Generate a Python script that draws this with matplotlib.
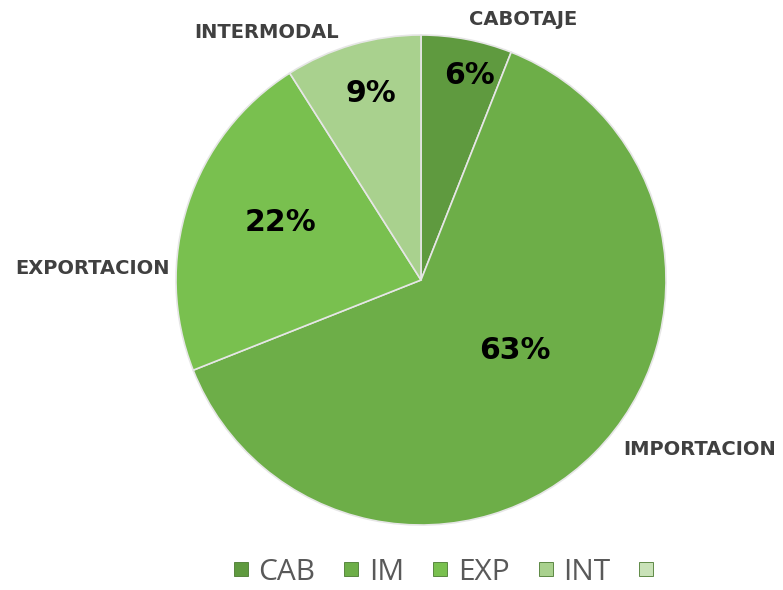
import numpy as np
import matplotlib
matplotlib.use("Agg")
import matplotlib.pyplot as plt
from matplotlib.lines import Line2D

# data
names = ['CABOTAJE', 'IMPORTACION', 'EXPORTACION', 'INTERMODAL']
short = ['CAB', 'IM', 'EXP', 'INT', '']
shares = [6, 63, 22, 9]
colors = ['#5f9a3f', '#6dae48', '#79c04f', '#a9d18e', '#c9e2b8']

fig = plt.figure(figsize=(7.83, 5.90), dpi=100)
ax = fig.add_axes([176 / 783, 65 / 590, 490 / 783, 490 / 590])

wedges, texts, autotexts = ax.pie(
    shares, colors=colors[:4], startangle=90, counterclock=False,
    labels=names, autopct='%1.0f%%', radius=1.0,
    wedgeprops=dict(edgecolor='#e6e6e6', linewidth=1.2),
    textprops=dict(fontsize=14, fontweight='bold', color='#404040'))
ax.set_xlim(-1, 1)
ax.set_ylim(-1, 1)
ax.set_aspect('equal')

# label placements (angle in degrees, radius)
lab_pos = [(68.6, 1.14), (-31.4, 1.33), (178.0, 1.34), (122.0, 1.19)]
pct_pos = [(76.6, 0.86), (-36.7, 0.48), (157.6, 0.62), (105.0, 0.79)]
for t, (a, r) in zip(texts, lab_pos):
    t.set_position((r * np.cos(np.radians(a)), r * np.sin(np.radians(a))))
    t.set_ha('center')
    t.set_va('center')
for t, (a, r) in zip(autotexts, pct_pos):
    t.set_position((r * np.cos(np.radians(a)), r * np.sin(np.radians(a))))
    t.set_fontsize(21.5)
    t.set_color('black')
    t.set_ha('center')
    t.set_va('center')

handles = [Line2D([], [], marker='s', linestyle='none', markersize=9.5,
                  markerfacecolor=c, markeredgecolor='#4a7a30', markeredgewidth=0.6)
           for c in colors]
leg = fig.legend(handles, short, loc='center', bbox_to_anchor=(448 / 783, 1 - 572 / 590),
                 ncol=5, frameon=False, handlelength=0.6, borderpad=0.2,
                 prop=dict(family='Open Sans', size=21.5),
                 handletextpad=0.3, columnspacing=0.9)
for t in leg.get_texts():
    t.set_color('#595959')

fig.savefig('out.png', dpi=100)
